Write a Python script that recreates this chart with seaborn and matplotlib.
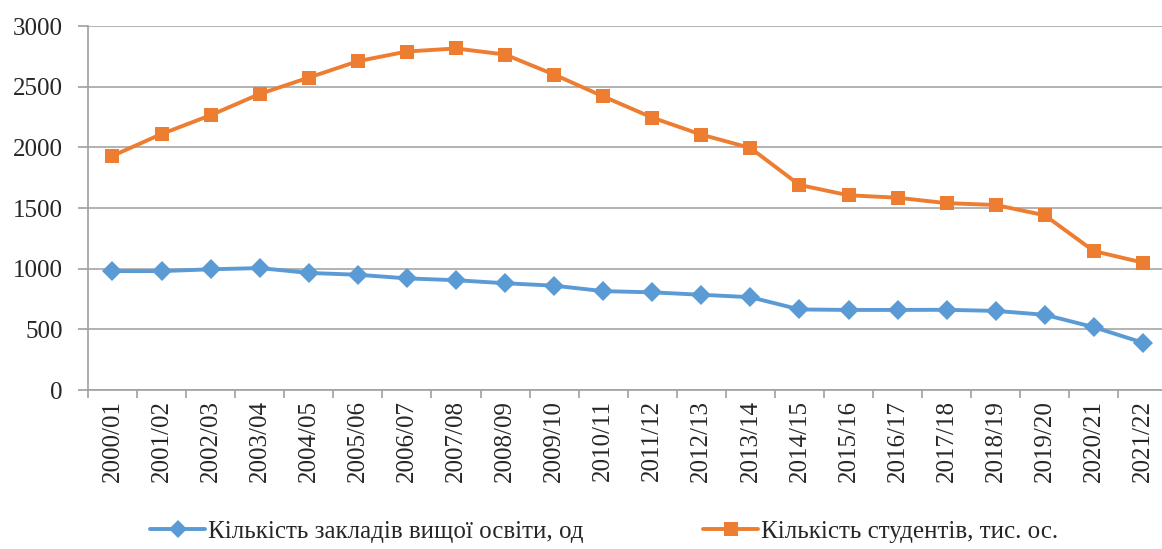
import pandas as pd
import seaborn as sns
import matplotlib.pyplot as plt
from matplotlib.ticker import MultipleLocator

years = ["2000/01", "2001/02", "2002/03", "2003/04", "2004/05", "2005/06",
         "2006/07", "2007/08", "2008/09", "2009/10", "2010/11", "2011/12",
         "2012/13", "2013/14", "2014/15", "2015/16", "2016/17", "2017/18",
         "2018/19", "2019/20", "2020/21", "2021/22"]
institutions = [980, 980, 995, 1005, 965, 950, 920, 905, 880, 860, 815, 805,
                785, 765, 664, 660, 660, 661, 652, 620, 518, 390]
students = [1930, 2110, 2265, 2440, 2575, 2710, 2790, 2815, 2765, 2600, 2420,
            2245, 2105, 1995, 1690, 1605, 1585, 1540, 1525, 1440, 1145, 1050]
label_inst = "Кількість закладів вищої освіти, од"
label_stud = "Кількість студентів, тис. ос."

df = pd.DataFrame({"year": years * 2,
                   "pos": list(range(len(years))) * 2,
                   "value": institutions + students,
                   "series": [label_inst] * len(years) + [label_stud] * len(years)})

sns.set_style("white")
plt.rcParams["font.family"] = ["Liberation Serif", "DejaVu Serif"]

fig = plt.figure(figsize=(11.62, 5.49), dpi=100)
ax = fig.add_axes([0.0757, 0.2896, 0.929, 0.663])

sns.lineplot(data=df, x="pos", y="value", hue="series", style="series",
             palette={label_inst: "#5B9BD5", label_stud: "#ED7D31"},
             markers={label_inst: "D", label_stud: "s"},
             dashes=False, linewidth=2.8, markersize=10.5, markeredgewidth=0,
             ax=ax, legend=False)

ax.set_xlim(-0.5, len(years) - 0.5)
ax.set_ylim(0, 3000)
ax.yaxis.set_major_locator(MultipleLocator(500))
ax.set_xticks(range(len(years)))
ax.set_xticklabels(years, rotation=90, fontsize=18)
ax.set_xticks([i - 0.5 for i in range(len(years) + 1)], minor=True)
ax.tick_params(axis="x", which="major", length=0, pad=7)
ax.tick_params(axis="x", which="minor", bottom=True, length=6, color="#A0A0A0", width=1.2)
ax.tick_params(axis="y", left=True, length=7, color="#A0A0A0", width=1.2,
               labelsize=18, pad=11)
ax.grid(axis="y", color="#A6A6A6", linewidth=1.2)
ax.set_xlabel("")
ax.set_ylabel("")
for side in ["top", "right"]:
    ax.spines[side].set_visible(False)
for side in ["left", "bottom"]:
    ax.spines[side].set_color("#A0A0A0")
    ax.spines[side].set_linewidth(1.2)

handles = [plt.Line2D([], [], color="#5B9BD5", marker="D", lw=2.8, ms=9, mew=0),
           plt.Line2D([], [], color="#ED7D31", marker="s", lw=2.8, ms=10, mew=0)]
fig.legend(handles, [label_inst, label_stud], loc="lower center",
           bbox_to_anchor=(0.52, -0.03), ncol=2, frameon=False, fontsize=18,
           handlelength=2.2, handletextpad=0.1, columnspacing=4.8)

fig.savefig("out.png", dpi=100)
